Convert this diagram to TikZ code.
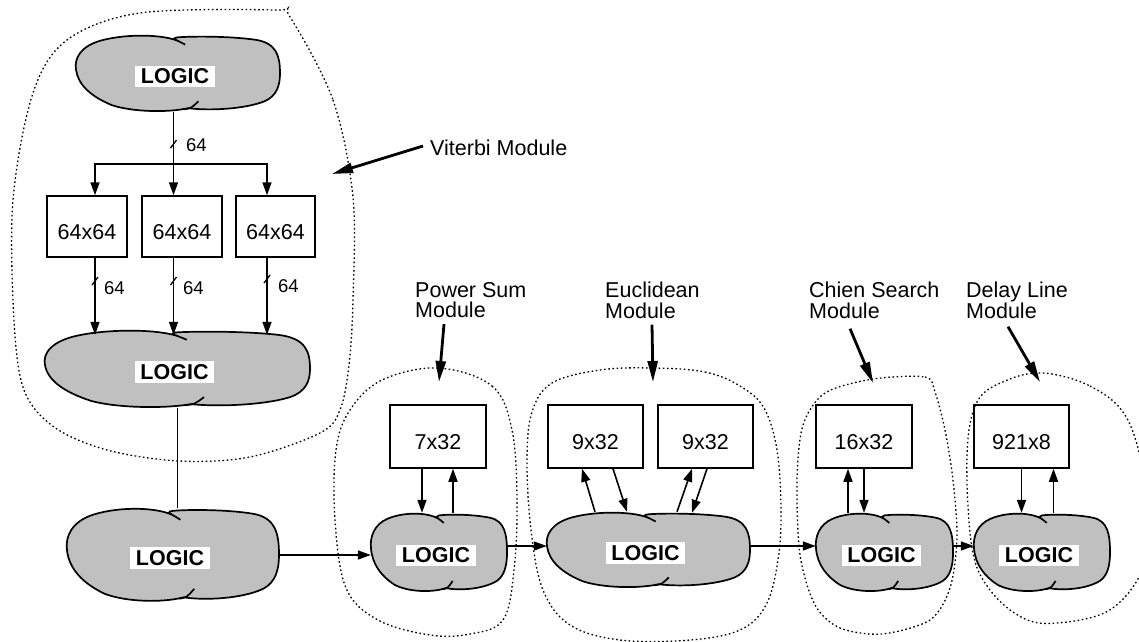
\documentclass[tikz,border=0pt]{standalone}
\usepackage{fontspec}
\setmainfont{Liberation Sans}
\usetikzlibrary{arrows.meta}
\definecolor{blobgray}{RGB}{192,192,192}

\tikzset{
  blobline/.style={draw=black, line width=1.7pt},
  blobarea/.style={rectangle, inner sep=0pt, draw=none},
  logictag/.style={fill=white, inner xsep=5.5pt, inner ysep=3pt,
    font=\fontsize{21.5}{24}\selectfont\bfseries},
  membox/.style={draw, line width=1.5pt, fill=white, inner sep=0pt,
    text height=26pt, text depth=0pt, font=\fontsize{21.5}{24}\selectfont},
  wire/.style={line width=1.6pt},
  arr/.style={wire, -{Triangle[length=13pt,width=9pt]}},
  pointer/.style={line width=2.8pt, -{Triangle[length=21pt,width=10pt]}},
  bound/.style={line width=1.3pt, dash pattern=on 1.6pt off 2.6pt},
  buslabel/.style={font=\fontsize{18.5}{20}\selectfont, inner sep=0pt, anchor=west},
  tick/.style={line width=1.3pt},
  modlabel/.style={align=left, anchor=north west, inner sep=0pt,
    font=\fontsize{21.5}{20.5}\selectfont},
}

% cloud-shaped logic block: name, centre x, centre y, width, height
\newcommand\logicblob[5]{%
  \begin{scope}[shift={(#2,#3)}, xscale=#4/2, yscale=#5/2]
    \filldraw[blobline, fill=blobgray] (0.02,-0.82)
      .. controls (-0.12,-1.02) and (-0.5,-1.04) .. (-0.75,-0.86)
      .. controls (-0.95,-0.72) and (-1.02,-0.4) .. (-1.0,-0.1)
      .. controls (-0.98,0.3) and (-0.85,0.6) .. (-0.65,0.82)
      .. controls (-0.45,1.0) and (-0.1,1.02) .. (0.1,0.9)
      .. controls (0.3,0.97) and (0.65,0.93) .. (0.85,0.72)
      .. controls (0.97,0.58) and (1.0,0.3) .. (1.0,0.0)
      .. controls (1.0,-0.45) and (0.97,-0.8) .. (0.75,-0.88)
      .. controls (0.5,-0.97) and (0.15,-0.97) .. (0.0,-0.94)
      .. controls (-0.03,-0.93) .. (-0.04,-0.9) -- cycle;
    \draw[blobline] (0.02,-0.82) -- (0.07,-0.75);
    \draw[blobline] (0.06,0.93) .. controls (0.13,0.9) .. (0.2,0.72);
  \end{scope}
  \node[blobarea, minimum width=#4pt, minimum height=#5pt] (#1) at (#2,#3) {};
  \node[logictag] (#1-t) at (#2-3,#3+3) {LOGIC};
}

\begin{document}
\begin{tikzpicture}[x=1pt, y=-1pt]
\useasboundingbox (0,0) rectangle (1139,641);
\clip (0,0) rectangle (1139,641);

% ---------------- Viterbi module ----------------
\logicblob{V1}{178}{73.5}{204}{77}
\logicblob{V2}{177.5}{369}{265}{78}

\node[membox, minimum width=80pt, minimum height=61pt] (B1) at (87,226.5) {64x64};
\node[membox, minimum width=80pt, minimum height=61pt] (B2) at (182,226.5) {64x64};
\node[membox, minimum width=79pt, minimum height=61pt] (B3) at (275.5,226.5) {64x64};

\coordinate (fork) at (173.5,164);
\draw[arr] ([xshift=-4.5pt]V1.south) -- ([xshift=-8.5pt]B2.north);
\draw[arr] (fork) -| ([xshift=8pt]B1.north);
\draw[arr] (fork) -| ([xshift=-8.5pt]B3.north);
\draw[tick] (173.5,144) +(-3,4) -- +(3,-4);
\node[buslabel] (w0) at (186,145) {64};

\draw[arr] ([xshift=8pt]B1.south) -- ([shift={(-82.5,5)}]V2.north);
\draw[arr] ([xshift=-8.5pt]B2.south) -- ([shift={(-4,5)}]V2.north);
\draw[arr] ([xshift=-8.5pt]B3.south) -- ([shift={(89.5,5)}]V2.north);
\draw[tick] (95,281) +(-3,4) -- +(3,-4);
\draw[tick] (173.5,281) +(-3,4) -- +(3,-4);
\draw[tick] (267,279) +(-3,4) -- +(3,-4);
\node[buslabel] (w1) at (104,288) {64};
\node[buslabel] (w2) at (183,288) {64};
\node[buslabel] (w3) at (278,286) {64};

\node[anchor=west, inner sep=0pt, font=\fontsize{21.5}{24}\selectfont] (vitlbl) at (430,147.5) {Viterbi Module};
\coordinate (vitTip) at (332,174);
\draw[pointer] ([shift={(-7,-1.5)}]vitlbl.west) -- (vitTip);

% ---------------- main logic and pipeline ----------------
\logicblob{L3}{173}{555}{212}{94}
\draw[wire] (V2.south) -- (V2.south |- L3.north);

\logicblob{P}{439}{552.5}{136}{79}
\logicblob{E}{648.5}{550}{203}{76}
\logicblob{C}{884.5}{552.5}{137}{79}
\logicblob{D}{1042}{552.5}{136}{79}

\draw[arr] (L3.east) -- (L3.east -| P.west);
\coordinate (pe) at ([shift={(0,-6.5)}]P.east);
\draw[arr] (pe) -- (pe -| E.west);
\coordinate (ee) at ([shift={(0,-4)}]E.east);
\draw[arr] (ee) -- (ee -| C.west);
\coordinate (ce) at ([shift={(0,-6.5)}]C.east);
\draw[arr] (ce) -- (ce -| D.west);

% power sum
\node[membox, minimum width=96pt, minimum height=63pt] (PSb) at (438,436.5) {7x32};
\draw[arr] ([xshift=-16pt]PSb.south) -- ([xshift=-17pt]P.north);
\draw[arr] ([xshift=14pt]P.north) -- ([xshift=15pt]PSb.south);

% euclidean
\node[membox, minimum width=95pt, minimum height=63pt] (EA) at (595.5,436.5) {9x32};
\node[membox, minimum width=95pt, minimum height=63pt] (EB) at (705.5,436.5) {9x32};
\draw[arr] ([xshift=-53.5pt]E.north) -- ([xshift=-13.5pt]EA.south);
\draw[arr] ([xshift=17.5pt]EA.south) -- ([xshift=-21.5pt]E.north);
\draw[arr] ([xshift=28.5pt]E.north) -- ([xshift=-13.5pt]EB.south);
\draw[arr] ([xshift=1.5pt]EB.south) -- ([shift={(43.5,1)}]E.north);

% chien search
\node[membox, minimum width=96pt, minimum height=63pt] (CB) at (864,436.5) {16x32};
\draw[arr] ([xshift=-36.5pt]C.north) -- ([xshift=-16pt]CB.south);
\draw[arr] (CB.south) -- ([xshift=-20.5pt]C.north);

% delay line
\node[membox, minimum width=95pt, minimum height=63pt] (DB) at (1021.5,436.5) {921x8};
\draw[arr] (DB.south) -- ([xshift=-20.5pt]D.north);
\draw[arr] ([xshift=11.5pt]D.north) -- ([xshift=32pt]DB.south);

% module captions with pointers
\node[modlabel] (psl) at (415,282) {Power Sum\\Module};
\node[modlabel] (eul) at (605,282) {Euclidean\\Module};
\node[modlabel] (chl) at (809,282) {Chien Search\\Module};
\node[modlabel] (del) at (966,282) {Delay Line\\Module};
\coordinate (psTip) at (439,382);
\coordinate (euTip) at (653,382);
\coordinate (chTip) at (873,383);
\coordinate (deTip) at (1040,382);
\draw[pointer] ([shift={(29,6)}]psl.south west) -- (psTip);
\draw[pointer] ([shift={(47,6)}]eul.south west) -- (euTip);
\draw[pointer] ([shift={(41,10)}]chl.south west) -- (chTip);
\draw[pointer] ([shift={(42,8)}]del.south west) -- (deTip);

% ---------------- module boundaries ----------------
\draw[bound] plot[smooth cycle, tension=0.55] coordinates {
  (290,17) (333,100) (353,197) (353,300) (349,365) (340,410) (320,433)
  (250,457) (179,461) (107,450) (54,427) (24,390) (14,320) (13,200)
  (33,93) (67,40) (140,13) (275,10)};
\draw[bound] plot[smooth cycle, tension=0.6] coordinates {
  (438,368) (492,386) (512,430) (517,500) (514,570) (503,620) (470,634)
  (430,635) (378,620) (346,588) (335,520) (336,450) (350,410) (382,380)};
\draw[bound] plot[smooth cycle, tension=0.6] coordinates {
  (653,368) (705,372) (740,386) (764,408) (777,450) (781,510) (778,560)
  (766,605) (740,630) (690,640) (620,640) (570,625) (543,590) (531,530)
  (527,460) (532,412) (552,383) (600,370)};
\draw[bound] plot[smooth cycle, tension=0.5] coordinates {
  (873,379) (925,377) (935,392) (945,430) (953,480) (957,538) (950,588)
  (930,620) (882,634) (840,628) (815,605) (800,555) (797,480) (803,425)
  (825,393)};
\draw[bound] plot[smooth cycle, tension=0.6] coordinates {
  (1043,373) (1090,386) (1125,415) (1143,470) (1148,530) (1140,575)
  (1108,611) (1057,623) (1023,618) (990,590) (972,548) (967,455)
  (977,402) (1005,381)};
\end{tikzpicture}
\end{document}
